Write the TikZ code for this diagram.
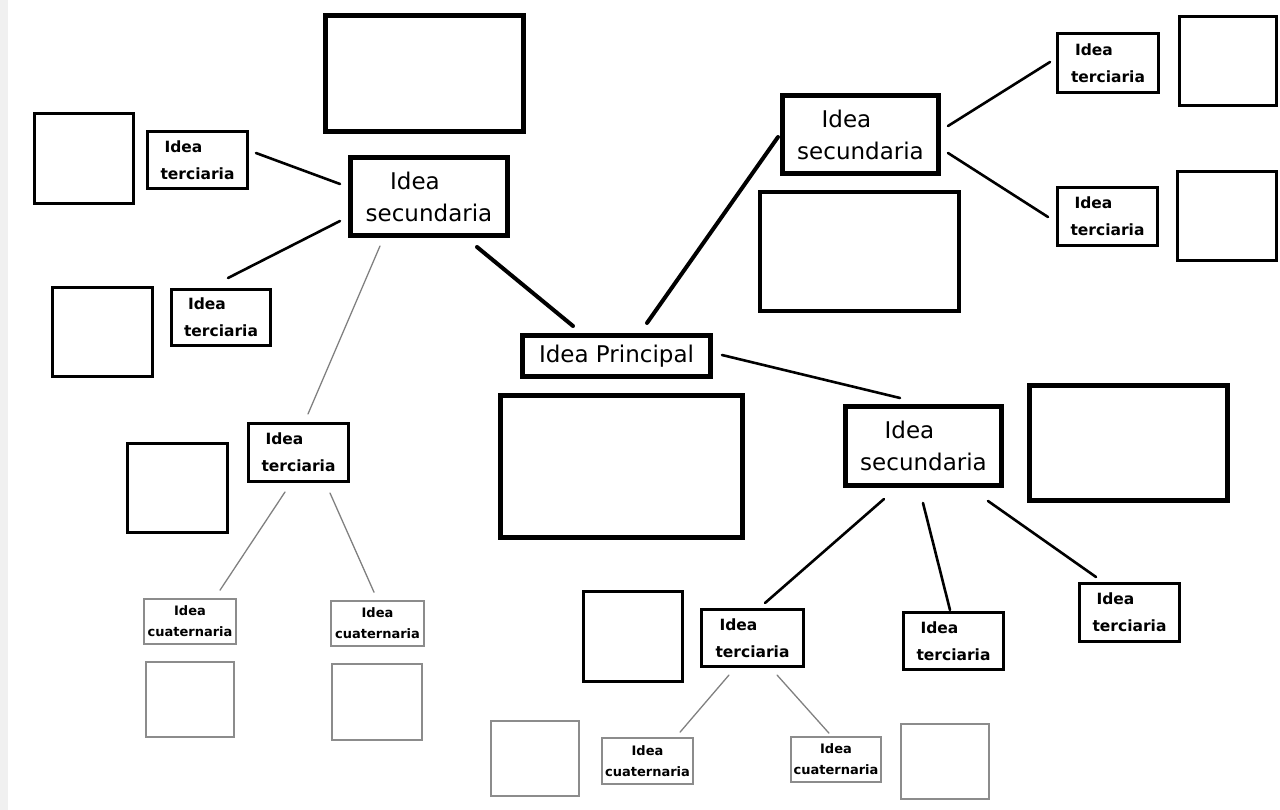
\documentclass[tikz,border=0pt]{standalone}
\usepackage{fontspec}
\setmainfont{DejaVu Sans}
\newcommand{\ideaL}{Idea\hspace*{28pt}}
\begin{document}
\begin{tikzpicture}[x=1pt,y=-1pt,
  bigbox/.style={draw=black,line width=5pt,inner sep=0pt},
  secbox/.style={draw=black,line width=5pt,inner sep=0pt,align=center,font=\fontsize{23}{32}\selectfont},
  tercbox/.style={draw=black,line width=3pt,inner sep=0pt,align=center,font=\bfseries\fontsize{15.5}{27}\selectfont},
  emptybox/.style={draw=black,line width=3pt,inner sep=0pt},
  cuatbox/.style={draw=black!45,line width=1.6pt,inner sep=0pt,align=center,font=\bfseries\fontsize{13}{21}\selectfont},
  thinbox/.style={draw=black!45,line width=1.6pt,inner sep=0pt},
  heavy/.style={line width=4pt,line cap=round},
  mid/.style={line width=2.6pt,line cap=round},
  faint/.style={line width=1.3pt,draw=black!50,line cap=round}]
\useasboundingbox (0,0) rectangle (1280,810);
\fill[black!6] (0,0) rectangle (8,810);
% left secondary branch
\node[bigbox,minimum width=198pt,minimum height=116pt] (bigTL) at (424.5,73.5) {};
\node[secbox,minimum width=157pt,minimum height=78pt] (ls) at (429,196.5) {\ideaL\\secundaria};
\node[tercbox,minimum width=100pt,minimum height=57pt] (t1) at (197.5,160) {\ideaL\\terciaria};
\node[emptybox,minimum width=99pt,minimum height=90pt] (e1) at (84,158.5) {};
\node[tercbox,minimum width=99pt,minimum height=56pt] (t2) at (221,317.5) {\ideaL\\terciaria};
\node[emptybox,minimum width=100pt,minimum height=89pt] (e2) at (102.5,332) {};
\node[tercbox,minimum width=100pt,minimum height=58pt] (t3) at (298.5,452.5) {\ideaL\\terciaria};
\node[emptybox,minimum width=100pt,minimum height=89pt] (e3) at (177.5,488) {};
\node[cuatbox,minimum width=92pt,minimum height=45pt] (q1) at (190,621.5) {Idea\\cuaternaria};
\node[thinbox,minimum width=88pt,minimum height=75pt] (eq1) at (190,699.5) {};
\node[cuatbox,minimum width=93pt,minimum height=45pt] (q2) at (377.5,623.5) {Idea\\cuaternaria};
\node[thinbox,minimum width=90pt,minimum height=76pt] (eq2) at (377,702) {};
% centre
\node[secbox,minimum width=188pt,minimum height=41pt] (pr) at (616.5,356) {Idea Principal};
\node[bigbox,minimum width=242pt,minimum height=142pt] (bigC) at (621.5,466.5) {};
% top right branch
\node[secbox,minimum width=156pt,minimum height=78pt] (trs) at (860.5,134.5) {\ideaL\\secundaria};
\node[bigbox,line width=4pt,minimum width=199pt,minimum height=119pt] (bigTR) at (859.5,251.5) {};
\node[tercbox,minimum width=101pt,minimum height=59pt] (tr1) at (1108,63) {\ideaL\\terciaria};
\node[emptybox,minimum width=97pt,minimum height=89pt] (etr1) at (1227.5,61) {};
\node[tercbox,minimum width=100pt,minimum height=58pt] (tr2) at (1107.5,216.5) {\ideaL\\terciaria};
\node[emptybox,minimum width=99pt,minimum height=89pt] (etr2) at (1226.5,216) {};
% bottom right branch
\node[secbox,minimum width=156pt,minimum height=79pt] (brs) at (923.5,446) {\ideaL\\secundaria};
\node[bigbox,minimum width=198pt,minimum height=115pt] (bigR) at (1128.5,443) {};
\node[tercbox,minimum width=102pt,minimum height=57pt] (b1) at (752.5,638) {\ideaL\\terciaria};
\node[emptybox,minimum width=99pt,minimum height=90pt] (eb1) at (633,636.5) {};
\node[tercbox,minimum width=100pt,minimum height=57pt] (b2) at (953.5,641) {\ideaL\\terciaria};
\node[tercbox,minimum width=100pt,minimum height=58pt] (b3) at (1129.5,612.5) {\ideaL\\terciaria};
\node[cuatbox,minimum width=91pt,minimum height=46pt] (bq1) at (647.5,761) {Idea\\cuaternaria};
\node[thinbox,minimum width=88pt,minimum height=75pt] (ebq1) at (535,758.5) {};
\node[cuatbox,minimum width=90pt,minimum height=45pt] (bq2) at (836,759.5) {Idea\\cuaternaria};
\node[thinbox,minimum width=88pt,minimum height=75pt] (ebq2) at (945,761.5) {};
% connectors
\draw[heavy] ([shift={(48,9)}]ls.south) -- ([shift={(-43.5,-7)}]pr.north);
\draw[heavy] ([shift={(30.5,-10)}]pr.north) -- ([shift={(-2,2.5)}]trs.west);
\draw[mid] ([shift={(9,-1)}]pr.east) -- ([shift={(-23.5,-6)}]brs.north);
\draw[mid] ([shift={(-8,-12.5)}]ls.west) -- ([shift={(7,-7)}]t1.east);
\draw[mid] ([shift={(-8,24.5)}]ls.west) -- ([shift={(7,-10)}]t2.north);
\draw[faint] ([shift={(-49,8)}]ls.south) -- ([shift={(9.5,-8)}]t3.north);
\draw[faint] ([shift={(-13.5,9)}]t3.south) -- ([shift={(30,-8)}]q1.north);
\draw[faint] ([shift={(31.5,10)}]t3.south) -- ([shift={(-3.5,-8)}]q2.north);
\draw[mid] ([shift={(7,-8.5)}]trs.east) -- ([shift={(-6,-1)}]tr1.west);
\draw[mid] ([shift={(7,18.5)}]trs.east) -- ([shift={(-8,0.5)}]tr2.west);
\draw[mid] ([shift={(-39.5,11)}]brs.south) -- ([shift={(12.5,-5)}]b1.north);
\draw[mid] ([shift={(-0.5,15)}]brs.south) -- ([shift={(-3.5,-1)}]b2.north);
\draw[mid] ([shift={(64.5,13)}]brs.south) -- ([shift={(-33.5,-5)}]b3.north);
\draw[faint] ([shift={(-23.5,7)}]b1.south) -- ([shift={(32.5,-5)}]bq1.north);
\draw[faint] ([shift={(24.5,7)}]b1.south) -- ([shift={(-7,-3)}]bq2.north);
\end{tikzpicture}
\end{document}
